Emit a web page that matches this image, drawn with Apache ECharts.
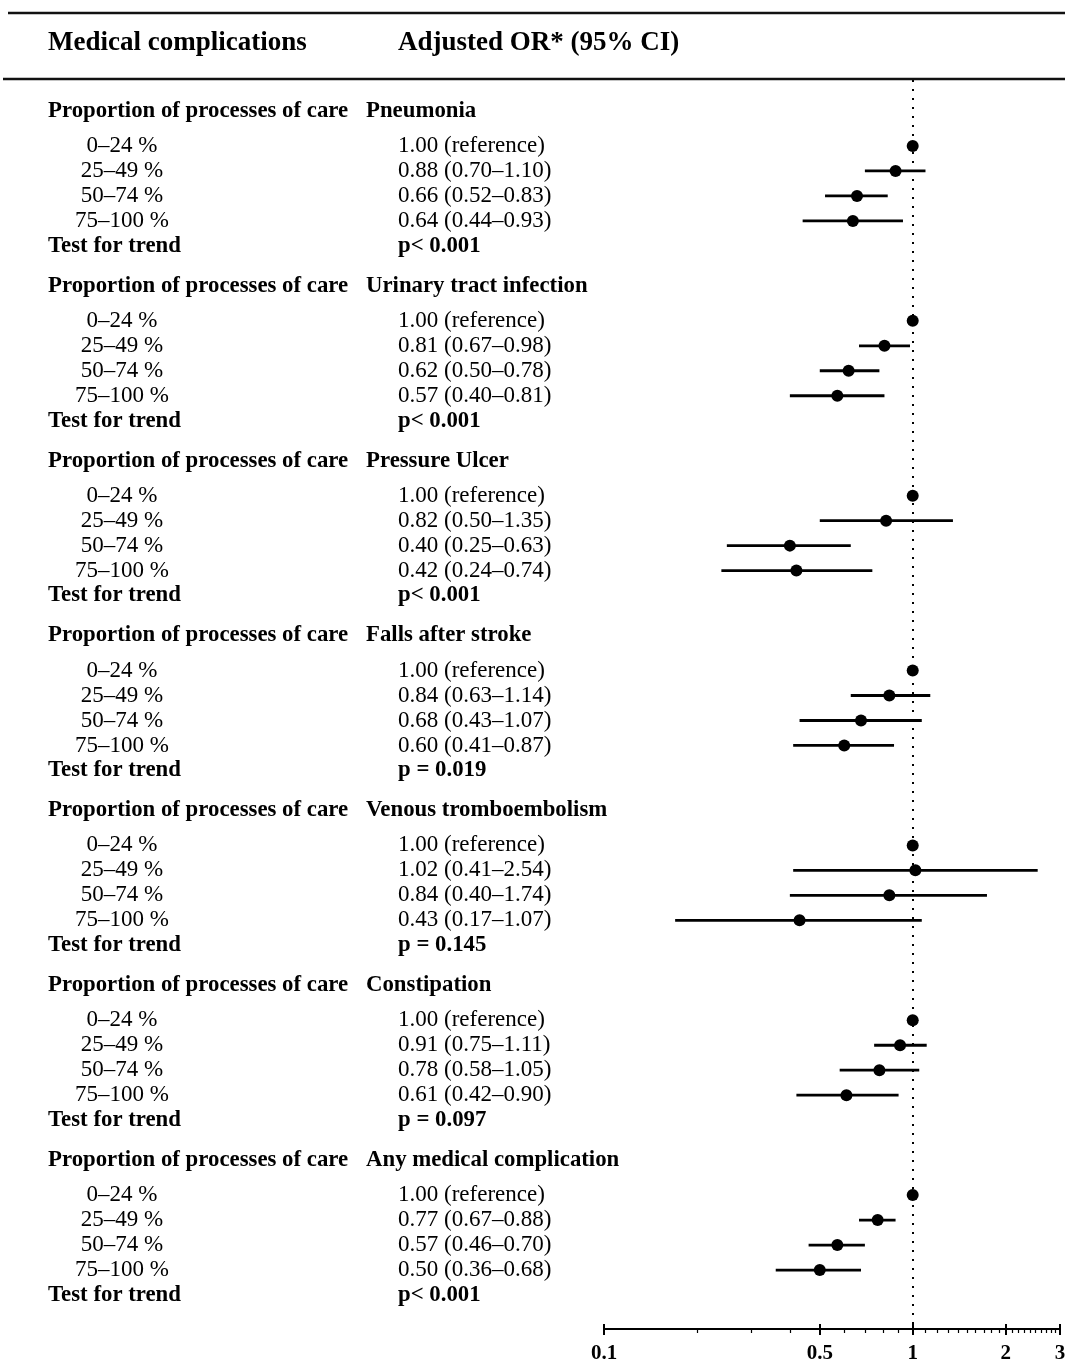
<!DOCTYPE html>
<html>
<head>
<meta charset="utf-8">
<script src="https://cdn.jsdelivr.net/npm/echarts@6/dist/echarts.min.js"></script>
<style>
html,body{margin:0;padding:0;background:#fff;}
#chart{width:1065px;height:1365px;}
</style>
</head>
<body>
<div id="chart"></div>
<script>
// ---------------- data ----------------
const complications = ['Pneumonia', 'Urinary tract infection', 'Pressure Ulcer', 'Falls after stroke',
  'Venous tromboembolism', 'Constipation', 'Any medical complication'];
const levels = ['0–24 %', '25–49 %', '50–74 %', '75–100 %'];
const oddsRatios = [
  [1.00, 0.88, 0.66, 0.64],
  [1.00, 0.81, 0.62, 0.57],
  [1.00, 0.82, 0.40, 0.42],
  [1.00, 0.84, 0.68, 0.60],
  [1.00, 1.02, 0.84, 0.43],
  [1.00, 0.91, 0.78, 0.61],
  [1.00, 0.77, 0.57, 0.50]
];
const ciLower = [
  [null, 0.70, 0.52, 0.44],
  [null, 0.67, 0.50, 0.40],
  [null, 0.50, 0.25, 0.24],
  [null, 0.63, 0.43, 0.41],
  [null, 0.41, 0.40, 0.17],
  [null, 0.75, 0.58, 0.42],
  [null, 0.67, 0.46, 0.36]
];
const ciUpper = [
  [null, 1.10, 0.83, 0.93],
  [null, 0.98, 0.78, 0.81],
  [null, 1.35, 0.63, 0.74],
  [null, 1.14, 1.07, 0.87],
  [null, 2.54, 1.74, 1.07],
  [null, 1.11, 1.05, 0.90],
  [null, 0.88, 0.70, 0.68]
];
const trendP = ['p< 0.001', 'p< 0.001', 'p< 0.001', 'p = 0.019', 'p = 0.145', 'p = 0.097', 'p< 0.001'];
const majorTicks = [0.1, 0.5, 1, 2, 3];
const minorTicks = [0.2, 0.3, 0.4, 0.6, 0.7, 0.8, 0.9,
  1.1, 1.2, 1.3, 1.4, 1.5, 1.6, 1.7, 1.8, 1.9,
  2.1, 2.2, 2.3, 2.4, 2.5, 2.6, 2.7, 2.8, 2.9];
const headerLeft = 'Medical complications';
const headerRight = 'Adjusted OR* (95% CI)';
const groupLabel = 'Proportion of processes of care';
const trendLabel = 'Test for trend';
const refLabel = '1.00 (reference)';

// ---------------- layout ----------------
const SERIF = '"Liberation Serif", "Times New Roman", serif';
const GROUP_STEP = 7;
const HEADER_OFF = 1.24;
const ROW1_OFF = 2.64;
const fmt = v => v.toFixed(2);

const textEntries = [];
const points = [];
const bars = [];
complications.forEach((name, g) => {
  const base = g * GROUP_STEP;
  textEntries.push({ t: groupLabel, col: 'left', y: base + HEADER_OFF, bold: true });
  textEntries.push({ t: name, col: 'name', y: base + HEADER_OFF, bold: true });
  levels.forEach((lv, k) => {
    const y = base + ROW1_OFF + k;
    textEntries.push({ t: lv, col: 'level', y: y, bold: false });
    const orv = oddsRatios[g][k];
    const txt = ciLower[g][k] == null ? refLabel
      : fmt(orv) + ' (' + fmt(ciLower[g][k]) + '–' + fmt(ciUpper[g][k]) + ')';
    textEntries.push({ t: txt, col: 'value', y: y, bold: false });
    points.push([orv, y]);
    if (ciLower[g][k] != null) bars.push([ciLower[g][k], ciUpper[g][k], y]);
  });
  const ty = base + ROW1_OFF + 4;
  textEntries.push({ t: trendLabel, col: 'left', y: ty, bold: true });
  textEntries.push({ t: trendP[g], col: 'value', y: ty, bold: true });
});

const colX = { left: 48, level: 122, name: 366, value: 398 };
const colAlign = { left: 'left', level: 'center', name: 'left', value: 'left' };

const chart = echarts.init(document.getElementById('chart'));
const logAxisBase = {
  type: 'log', logBase: 10, min: 0.1, max: 3, gridIndex: 0, position: 'bottom', offset: 0,
  splitLine: { show: false }, minorTick: { show: false }
};

chart.setOption({
  animation: false,
  backgroundColor: '#fff',
  grid: { left: 604, right: 5, top: 80, bottom: 36, containLabel: false, outerBoundsMode: 'none' },
  xAxis: [
    Object.assign({}, logAxisBase, {
      axisLine: { show: true, onZero: false, lineStyle: { color: '#000', width: 2 } },
      axisTick: { show: true, customValues: majorTicks, length: 6, lineStyle: { color: '#000', width: 2 } },
      axisLabel: {
        show: true, customValues: majorTicks, hideOverlap: false, showMaxLabel: true, showMinLabel: true,
        formatter: v => String(+(+v).toFixed(2)), margin: 14,
        fontFamily: SERIF, fontSize: 21, fontWeight: 'bold', color: '#000'
      }
    }),
    Object.assign({}, logAxisBase, {
      axisLine: { show: false, onZero: false },
      axisTick: { show: true, inside: true, customValues: majorTicks, length: 5, lineStyle: { color: '#000', width: 2 } },
      axisLabel: { show: false }
    }),
    Object.assign({}, logAxisBase, {
      axisLine: { show: false, onZero: false },
      axisTick: { show: true, customValues: minorTicks, length: 4, lineStyle: { color: '#000', width: 1.2 } },
      axisLabel: { show: false }
    })
  ],
  yAxis: { type: 'value', inverse: true, min: 0, max: 50, show: false },
  graphic: [
    { type: 'line', shape: { x1: 8, y1: 13, x2: 1065, y2: 13 }, style: { stroke: '#111', lineWidth: 2.5 } },
    { type: 'line', shape: { x1: 3, y1: 79, x2: 1065, y2: 79 }, style: { stroke: '#111', lineWidth: 2.5 } },
    { type: 'text', x: 48, y: 43, style: { text: headerLeft, font: 'bold 27px ' + SERIF, fill: '#000', textVerticalAlign: 'middle' } },
    { type: 'text', x: 398, y: 43, style: { text: headerRight, font: 'bold 27px ' + SERIF, fill: '#000', textVerticalAlign: 'middle' } }
  ],
  series: [
    {
      type: 'custom', name: 'table', xAxisIndex: 0, yAxisIndex: 0, clip: false, silent: true,
      data: textEntries.map(e => [1, e.y]),
      renderItem: (params, api) => {
        const e = textEntries[params.dataIndex];
        const p = api.coord([1, api.value(1)]);
        return {
          type: 'text',
          style: {
            text: e.t, x: colX[e.col], y: p[1],
            font: (e.bold ? 'bold 22.8px ' : '23px ') + SERIF,
            fill: '#000', textAlign: colAlign[e.col], textVerticalAlign: 'middle'
          }
        };
      }
    },
    {
      type: 'custom', name: 'CI', xAxisIndex: 0, yAxisIndex: 0, silent: true,
      data: bars,
      renderItem: (params, api) => {
        const a = api.coord([api.value(0), api.value(2)]);
        const b = api.coord([api.value(1), api.value(2)]);
        return { type: 'line', shape: { x1: a[0], y1: a[1], x2: b[0], y2: b[1] }, style: { stroke: '#000', lineWidth: 2.8 } };
      },
      z: 3
    },
    {
      type: 'scatter', name: 'OR', xAxisIndex: 0, yAxisIndex: 0, silent: true,
      data: points, symbol: 'circle', symbolSize: 12,
      itemStyle: { color: '#000', opacity: 1 }, z: 4,
      markLine: {
        silent: true, symbol: 'none', label: { show: false },
        lineStyle: { color: '#000', type: [2, 7], width: 2, opacity: 1 },
        data: [{ xAxis: 1 }]
      }
    }
  ]
});
</script>
</body>
</html>
